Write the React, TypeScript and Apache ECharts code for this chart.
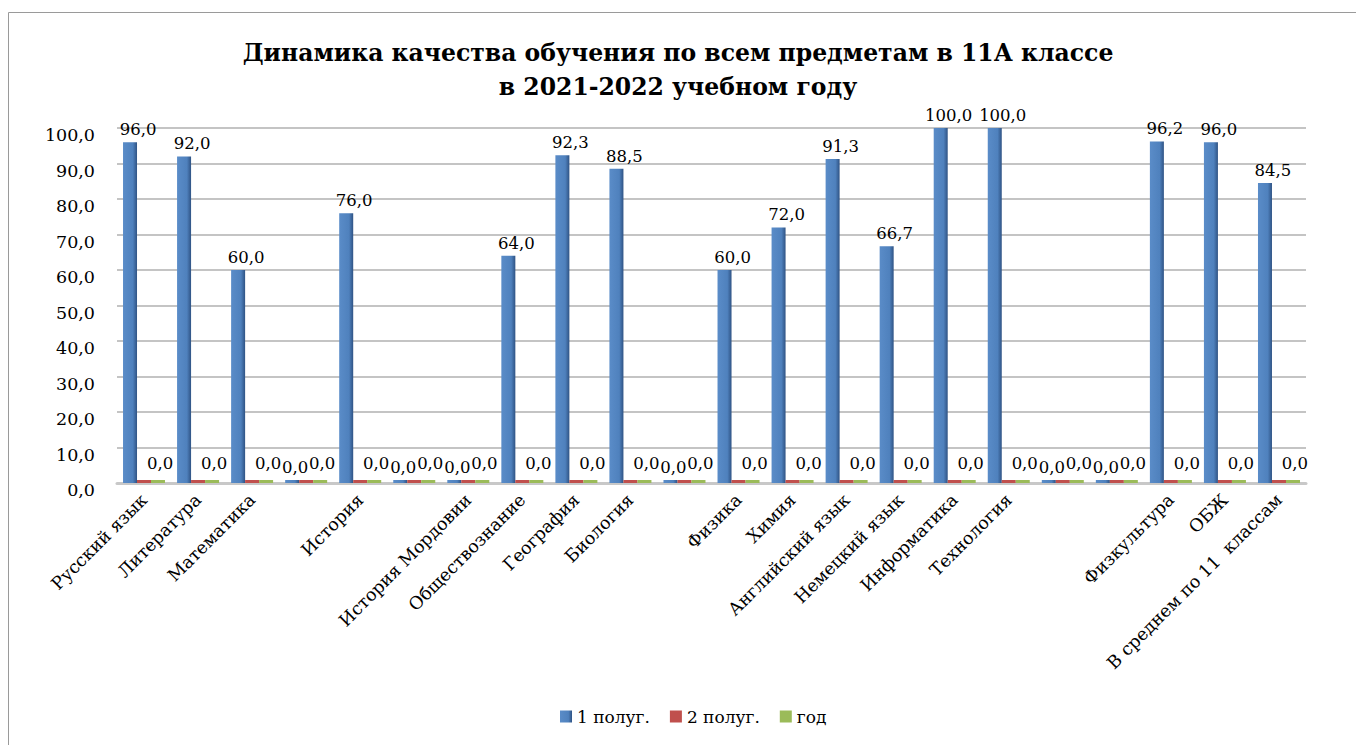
import React, { useEffect, useRef } from "react";
import * as echarts from "echarts";

const categories = [
  "Русский язык",
  "Литература",
  "Математика",
  "",
  "История",
  "",
  "История Мордовии",
  "Обществознание",
  "География",
  "Биология",
  "",
  "Физика",
  "Химия",
  "Английский язык",
  "Немецкий язык",
  "Информатика",
  "Технология",
  "",
  "",
  "Физкультура",
  "ОБЖ",
  "В среднем по 11  классам",
];

const firstHalf = [96, 92, 60, 0, 76, 0, 0, 64, 92.3, 88.5, 0, 60, 72, 91.3, 66.7, 100, 100, 0, 0, 96.2, 96, 84.5];
const secondHalf = [0, 0, 0, 0, 0, 0, 0, 0, 0, 0, 0, 0, 0, 0, 0, 0, 0, 0, 0, 0, 0, 0];
const yearValues = [0, 0, 0, 0, 0, 0, 0, 0, 0, 0, 0, 0, 0, 0, 0, 0, 0, 0, 0, 0, 0, 0];

const yTicks = { min: 0, max: 100, interval: 10 };

const FONT = "DejaVu Serif";
const fmt = (v: number) => v.toFixed(1).replace(".", ",");

function barGradient(light: string, mid: string, dark: string) {
  return new echarts.graphic.LinearGradient(0, 0, 1, 0, [
    { offset: 0, color: light },
    { offset: 0.7, color: mid },
    { offset: 1, color: dark },
  ]);
}

const labelBase = {
  show: true,
  position: "top",
  fontFamily: FONT,
  fontSize: 16.5,
  color: "#000",
};

export default function App() {
  const ref = useRef<HTMLDivElement>(null);

  useEffect(() => {
    document.body.style.margin = "0";
    const chart = echarts.init(ref.current!, undefined, { renderer: "svg" });
    chart.setOption({
      animation: false,
      backgroundColor: "#ffffff",
      textStyle: { fontFamily: FONT },
      title: {
        text: "Динамика качества обучения по всем предметам в 11А классе\nв 2021-2022 учебном году",
        left: "center",
        top: 31,
        textStyle: {
          fontFamily: FONT,
          fontSize: 23.5,
          fontWeight: "bold",
          color: "#000",
          lineHeight: 34,
        },
      },
      graphic: [
        {
          type: "rect",
          shape: { x: 8.5, y: 12.5, width: 1400, height: 800 },
          style: { fill: "none", stroke: "#9a9a9a", lineWidth: 1 },
          silent: true,
        },
      ],
      legend: {
        bottom: 15,
        left: 555,
        itemWidth: 12,
        itemHeight: 12,
        itemGap: 20,
        icon: "rect",
        textStyle: { fontFamily: FONT, fontSize: 17, color: "#000" },
        data: ["1 полуг.", "2 полуг.", "год"],
      },
      grid: { left: 117, right: 50, top: 128, bottom: 262, containLabel: false },
      xAxis: {
        type: "category",
        data: categories,
        axisTick: { show: false },
        axisLine: { show: true, lineStyle: { color: "#c8c8c8", width: 3 } },
        axisLabel: {
          interval: 0,
          rotate: 45,
          fontFamily: FONT,
          fontSize: 17.5,
          color: "#000",
          margin: 14,
        },
      },
      yAxis: {
        type: "value",
        min: yTicks.min,
        max: yTicks.max,
        interval: yTicks.interval,
        axisLine: { show: false },
        axisTick: { show: false },
        splitLine: { show: true, lineStyle: { color: "#c4c4c4", width: 2 } },
        axisLabel: {
          formatter: (v: number) => fmt(v),
          fontFamily: FONT,
          fontSize: 17.5,
          color: "#000",
          margin: 22,
          verticalAlign: "top",
          lineHeight: 14,
        },
      },
      series: [
        {
          name: "1 полуг.",
          type: "bar",
          data: firstHalf.map((v) => ({
            value: v,
            label: { offset: [v === 0 ? 3 : 8, 0] },
          })),
          barWidth: 14,
          barGap: "0%",
          barMinHeight: 3,
          itemStyle: {
            color: barGradient("#5a8cc8", "#4f81bd", "#2f5384"),
          },
          label: {
            ...labelBase,
            distance: 4,
            formatter: (p: any) => fmt(p.value),
          },
        },
        {
          name: "2 полуг.",
          type: "bar",
          data: secondHalf,
          barWidth: 14,
          barGap: "0%",
          barMinHeight: 3,
          itemStyle: { color: "#c0504d" },
          label: {
            ...labelBase,
            distance: 8,
            offset: [16, 0],
            formatter: (p: any) => fmt(p.value),
          },
        },
        {
          name: "год",
          type: "bar",
          data: yearValues,
          barWidth: 14,
          barGap: "0%",
          barMinHeight: 3,
          itemStyle: { color: "#9bbb59" },
          label: { show: false },
        },
      ],
    });
    return () => chart.dispose();
  }, []);

  return <div ref={ref} style={{ width: 1356, height: 745 }} />;
}
